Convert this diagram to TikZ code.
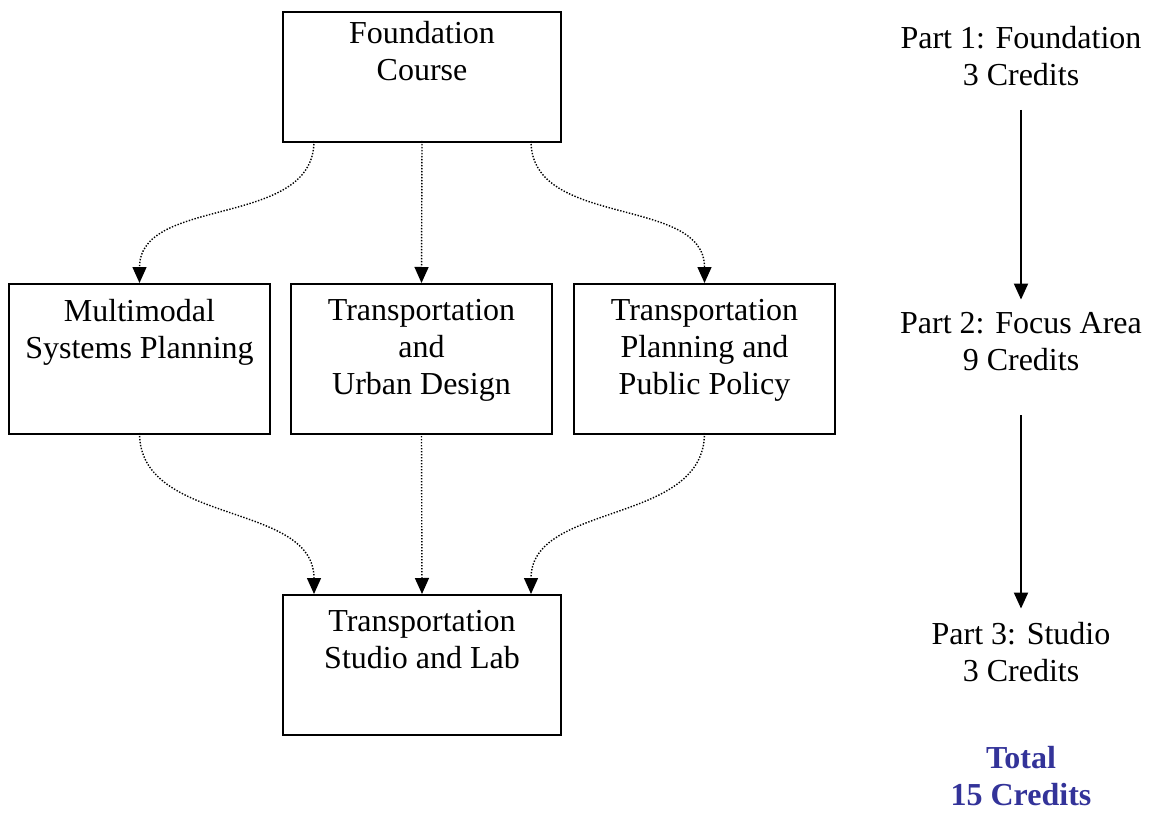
\documentclass[tikz,border=0pt]{standalone}
\usepackage{fontspec}
\setmainfont{Liberation Serif}
\usetikzlibrary{arrows.meta}
\definecolor{totalblue}{RGB}{51,51,153}

\tikzset{
    big/.style={font=\fontsize{32}{37}\selectfont},
    course/.style={draw, line width=2pt, minimum width=#1, inner sep=0pt},
    course/.default=261pt,
    intext/.style={big, align=center, inner sep=0pt, anchor=north},
    flow/.style={line width=1.4pt, dash pattern=on 1.4pt off 1.6pt, -{Triangle[length=16pt, width=14pt]}},
    partarrow/.style={line width=2pt, -{Triangle[length=16pt, width=14pt]}},
    part/.style={big, align=center, inner sep=0pt}
}

\begin{document}
\begin{tikzpicture}[x=1pt, y=-1pt]
    \useasboundingbox (0, 0) rectangle (1151, 813);

    \node [course=278pt, minimum height=130pt,
        label={[intext, yshift=-10pt]north:Foundation\\Course}] (found) at (422, 77) {};
    \node [course, minimum height=150pt,
        label={[intext, yshift=-16pt]north:Multimodal\\Systems Planning}] (multi) at (139.5, 359) {};
    \node [course, minimum height=150pt,
        label={[intext, yshift=-16pt]north:Transportation\\and\\Urban Design}] (urban) at (421.5, 359) {};
    \node [course, minimum height=150pt,
        label={[intext, yshift=-16pt]north:Transportation\\Planning and\\Public Policy}] (policy) at (704.5, 359) {};
    \node [course=278pt, minimum height=140pt,
        label={[intext, yshift=-16pt]north:Transportation\\Studio and Lab}] (studio) at (422, 665) {};

    \draw [flow] ([xshift=32pt, yshift=2pt]found.south west) to [out=-90, in=90] (multi.north);
    \draw [flow] ([yshift=2pt]found.south) -- (urban.north);
    \draw [flow] ([xshift=-31pt, yshift=2pt]found.south east) to [out=-90, in=90] (policy.north);

    \draw [flow] ([yshift=2pt]multi.south) to [out=-90, in=90] ([xshift=32pt]studio.north west);
    \draw [flow] ([yshift=2pt]urban.south) -- (studio.north);
    \draw [flow] ([yshift=2pt]policy.south) to [out=-90, in=90] ([xshift=-31pt]studio.north east);

    \node [part] (part1) at (1021, 56) {Part 1: Foundation\\3 Credits};
    \node [part] (part2) at (1021, 342) {Part 2: Focus Area\\9 Credits};
    \node [part] (part3) at (1021, 652.5) {Part 3: Studio\\3 Credits};
    \node [part, font=\fontsize{32}{37}\selectfont\bfseries, text=totalblue] (total) at (1021, 776) {Total\\15 Credits};

    \draw [partarrow, shorten <=24pt, shorten >=13pt] (part1) -- (part2);
    \draw [partarrow, shorten <=44pt, shorten >=14pt] (part2) -- (part3);
\end{tikzpicture}
\end{document}
